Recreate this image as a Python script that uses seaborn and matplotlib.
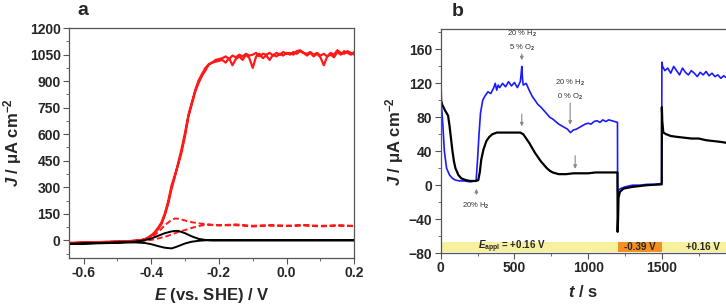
import numpy as np
import pandas as pd
import seaborn as sns
import matplotlib
matplotlib.use("Agg")
import matplotlib.pyplot as plt
from matplotlib.ticker import MultipleLocator

# ---- panel a : cyclic voltammograms ----
E_red = [-0.65, -0.60, -0.55, -0.50, -0.46, -0.44, -0.43, -0.42, -0.41, -0.40,
         -0.39, -0.38, -0.37, -0.36, -0.35, -0.34, -0.33, -0.32, -0.31, -0.30,
         -0.29, -0.28, -0.27, -0.26, -0.25, -0.24, -0.23, -0.22, -0.21, -0.20,
         -0.19, -0.18, -0.17, -0.16, -0.15, -0.14, -0.13, -0.12, -0.11, -0.10,
         -0.09, -0.08, -0.07, -0.06, -0.05, -0.04, -0.03, -0.02, -0.01, 0.00,
         0.01, 0.02, 0.03, 0.04, 0.05, 0.06, 0.07, 0.08, 0.09, 0.10,
         0.11, 0.12, 0.13, 0.14, 0.15, 0.16, 0.17, 0.18, 0.19, 0.20]
J_red_fwd = [-15, -12, -10, -7, -4, -1, 1, 6, 15, 28,
             45, 70, 100, 150, 220, 310, 370, 430, 500, 590,
             700, 770, 840, 890, 930, 960, 995, 1005, 1010, 1015,
             1020, 1005, 1030, 990, 1025, 1040, 1020, 1050, 1030, 975,
             1040, 1055, 1030, 1045, 1020, 1050, 1040, 1055, 1045, 1060,
             1050, 1065, 1055, 1070, 1060, 1045, 1060, 1040, 1055, 1035,
             990, 1040, 1050, 1035, 1065, 1050, 1070, 1060, 1050, 1065]
J_red_rev = [-18, -14, -11, -9, -5, -2, 0, 4, 12, 24,
             40, 62, 90, 140, 205, 290, 360, 440, 520, 610,
             710, 780, 850, 905, 940, 975, 995, 1005, 1020, 1025,
             1030, 1040, 1025, 1045, 1035, 1050, 1040, 1055, 1045, 1050,
             1060, 1040, 1055, 1050, 1060, 1045, 1060, 1050, 1065, 1055,
             1060, 1050, 1070, 1075, 1060, 1055, 1065, 1050, 1060, 1045,
             1055, 1040, 1060, 1050, 1075, 1060, 1055, 1070, 1060, 1050]

E_small = [-0.65, -0.55, -0.45, -0.42, -0.40, -0.38, -0.36, -0.34, -0.33, -0.32,
           -0.30, -0.28, -0.26, -0.24, -0.22, -0.20, -0.15, -0.10, -0.05, 0.00,
           0.05, 0.10, 0.15, 0.20]
J_dash_fwd = [-15, -10, -3, 3, 15, 45, 85, 115, 123, 122,
              112, 102, 96, 92, 88, 85, 90, 82, 87, 83,
              86, 82, 85, 80]
J_dash_rev = [-18, -12, -6, -2, 2, 10, 20, 32, 40, 47,
              58, 70, 80, 88, 86, 84, 85, 78, 82, 80,
              84, 78, 83, 82]
J_blk_fwd = [-20, -15, -8, 0, 10, 25, 40, 50, 53, 53,
             40, 22, 8, 2, 0, 0, 0, 0, 0, 0,
             0, 0, 0, 0]
J_blk_rev = [-22, -17, -12, -15, -22, -33, -42, -46, -40, -33,
             -18, -8, -3, 0, 0, 0, 0, 0, 0, 0,
             0, 0, 0, 0]

# ---- panel b : chronoamperometry ----
t_blue = [0, 3, 8, 15, 25, 40, 60, 80, 100, 130, 160, 200, 240, 250, 260, 270,
          285, 300, 320, 340, 360, 370, 380, 390, 400, 420, 440, 460, 480, 500,
          520, 540, 545, 550, 555, 560, 580, 600, 620, 640, 660, 680, 700, 720,
          740, 760, 780, 800, 820, 840, 860, 880, 900, 920, 940, 960, 980, 1000,
          1020, 1040, 1060, 1080, 1100, 1120, 1140, 1160, 1180, 1199, 1200, 1205,
          1220, 1250, 1300, 1350, 1400, 1450, 1499, 1500, 1505, 1520, 1540, 1560,
          1580, 1600, 1620, 1640, 1660, 1680, 1700, 1720, 1740, 1760, 1780, 1800,
          1820, 1840, 1860, 1880, 1900, 1920, 1935]
J_blue = [140, 95, 88, 70, 40, 20, 12, 8, 6, 5, 5, 4, 5, 30, 60, 85,
          100, 105, 110, 108, 115, 120, 112, 118, 115, 120, 116, 122, 117, 121,
          115, 122, 130, 140, 125, 118, 120, 112, 105, 100, 95, 92, 88, 84,
          80, 78, 75, 72, 70, 68, 66, 62, 65, 66, 68, 70, 72, 73,
          72, 75, 76, 74, 77, 75, 77, 76, 75, 74, -8, -6,
          -4, -2, 0, 0, 1, 1, 2, 145, 140, 135, 138, 132,
          140, 135, 130, 138, 133, 130, 135, 132, 128, 133, 130, 134,
          129, 132, 128, 130, 126, 129, 127]

t_black = [0, 3, 10, 30, 50, 60, 70, 80, 90, 100, 120, 140, 170, 200, 240, 255,
           265, 275, 290, 310, 330, 350, 380, 420, 460, 500, 540, 560, 580, 600,
           620, 640, 660, 680, 700, 720, 740, 760, 780, 800, 850, 900, 950, 1000,
           1050, 1100, 1150, 1199, 1200, 1203, 1206, 1215, 1240, 1300, 1400, 1499,
           1500, 1503, 1510, 1530, 1560, 1600, 1650, 1700, 1750, 1800, 1850, 1900,
           1935]
J_black = [125, 100, 95, 88, 82, 70, 55, 40, 28, 20, 12, 8, 6, 5, 5, 6,
           15, 30, 42, 52, 57, 60, 62, 62, 62, 62, 62, 60, 55, 50,
           44, 38, 33, 28, 24, 20, 17, 15, 14, 13, 13, 14, 14, 14,
           15, 15, 15, 15, -55, -40, -15, -8, -4, -2, 0, 1,
           92, 75, 62, 60, 58, 57, 56, 55, 55, 53, 52, 51,
           50]

# applied potential steps
phase_start = [0, 1200, 1500]
phase_end = [1200, 1500, 1935]
phase_label = [r"$E_{\mathregular{appl}}$ = +0.16 V", "-0.39 V", "+0.16 V"]
phase_text_t = [485, 1350, 1780]
phase_color = ["#f7f09e", "#f39021", "#f7f09e"]

sns.set_theme(style="ticks")
plt.rcParams['font.family'] = ['Liberation Sans', 'DejaVu Sans']
plt.rcParams['font.weight'] = 'bold'
plt.rcParams['mathtext.fontset'] = 'custom'
plt.rcParams['mathtext.rm'] = 'Liberation Sans:bold'
plt.rcParams['mathtext.bf'] = 'Liberation Sans:bold'
plt.rcParams['mathtext.it'] = 'Liberation Sans:bold:italic'

fig = plt.figure(figsize=(7.26, 3.06), dpi=100)
ax1 = fig.add_axes([0.095, 0.157, 0.393, 0.751])
ax2 = fig.add_axes([0.607, 0.173, 0.393, 0.732])

RED = "#ff1a1a"
BLUE = "#1a1aff"

# panel a curves (loops: forward then reverse)
loop = lambda e, f, r: (list(e) + list(e[::-1]), list(f) + list(r[::-1]))
x, y = loop(E_red, J_red_fwd, J_red_rev)
sns.lineplot(x=x, y=y, sort=False, estimator=None, color=RED, lw=1.6, ax=ax1)
x, y = loop(E_small, J_dash_fwd, J_dash_rev)
sns.lineplot(x=x, y=y, sort=False, estimator=None, color=RED, lw=1.4,
             linestyle=(0, (3, 1.5)), ax=ax1)
x, y = loop(E_small, J_blk_fwd, J_blk_rev)
sns.lineplot(x=x, y=y, sort=False, estimator=None, color="black", lw=1.4, ax=ax1)

ax1.set_xlim(-0.643, 0.2)
ax1.set_ylim(-100, 1200)
ax1.xaxis.set_major_locator(MultipleLocator(0.2))
ax1.xaxis.set_minor_locator(MultipleLocator(0.1))
ax1.yaxis.set_major_locator(MultipleLocator(150))
ax1.yaxis.set_minor_locator(MultipleLocator(75))
ax1.xaxis.set_major_formatter(plt.FuncFormatter(lambda v, p: f"{v:.1f}"))
ax1.set_xlabel(r"$E$ (vs. SHE) / V", fontsize=12, fontweight="bold", labelpad=4)
ax1.set_ylabel(r"$J$ / μA cm$^{-2}$", fontsize=12, fontweight="bold", labelpad=4)
ax1.text(0.03, 1.04, "a", transform=ax1.transAxes, fontsize=14,
         fontweight="bold", va="bottom")

# panel b
for s, e, c in zip(phase_start, phase_end, phase_color):
    ax2.axvspan(s, e, ymin=0.005, ymax=0.05, color=c, lw=0, zorder=1)
for tx, lab in zip(phase_text_t, phase_label):
    ax2.text(tx, -73, lab, fontsize=7, ha="center", va="center")

sns.lineplot(x=t_blue, y=J_blue, sort=False, estimator=None, color=BLUE,
             lw=1.2, ax=ax2)
sns.lineplot(x=t_black, y=J_black, sort=False, estimator=None, color="black",
             lw=1.6, ax=ax2)

arrow = dict(arrowstyle="-|>", color="#888888", lw=0.8, mutation_scale=5)
ann = dict(fontsize=5.5, color="#333333", fontweight="normal", ha="center")
ax2.annotate("", xy=(242, -1), xytext=(242, -14), arrowprops=arrow)
ax2.text(242, -25, "20% H$_2$", va="center", **ann)
ax2.annotate("", xy=(550, 144), xytext=(550, 158), arrowprops=arrow)
ax2.text(550, 170, "20 % H$_2$\n5 % O$_2$", va="center", linespacing=1.6, **ann)
ax2.annotate("", xy=(550, 66), xytext=(550, 87), arrowprops=arrow)
ax2.annotate("", xy=(878, 68), xytext=(878, 100), arrowprops=arrow)
ax2.text(878, 112, "20 % H$_2$\n0 % O$_2$", va="center", linespacing=1.6, **ann)
ax2.annotate("", xy=(912, 16), xytext=(912, 38), arrowprops=arrow)

ax2.set_xlim(0, 1935)
ax2.set_ylim(-80, 184)
ax2.xaxis.set_major_locator(MultipleLocator(500))
ax2.xaxis.set_minor_locator(MultipleLocator(250))
ax2.yaxis.set_major_locator(MultipleLocator(40))
ax2.yaxis.set_minor_locator(MultipleLocator(20))
ax2.set_xlabel(r"$t$ / s", fontsize=12, fontweight="bold", labelpad=6)
ax2.set_ylabel(r"$J$ / μA cm$^{-2}$", fontsize=12, fontweight="bold", labelpad=2)
ax2.spines["right"].set_visible(False)
ax2.text(0.04, 1.04, "b", transform=ax2.transAxes, fontsize=14,
         fontweight="bold", va="bottom")

for ax in (ax1, ax2):
    for sp in ax.spines.values():
        sp.set_color("#555555")
        sp.set_linewidth(0.9)
    ax.tick_params(which="major", direction="out", length=4, width=0.8,
                   color="#555555", labelsize=10, pad=2)
    ax.tick_params(which="minor", direction="out", length=2, width=0.6,
                   color="#555555")
    for lbl in ax.get_xticklabels() + ax.get_yticklabels():
        lbl.set_fontweight("bold")

fig.savefig("out.png", dpi=100)
